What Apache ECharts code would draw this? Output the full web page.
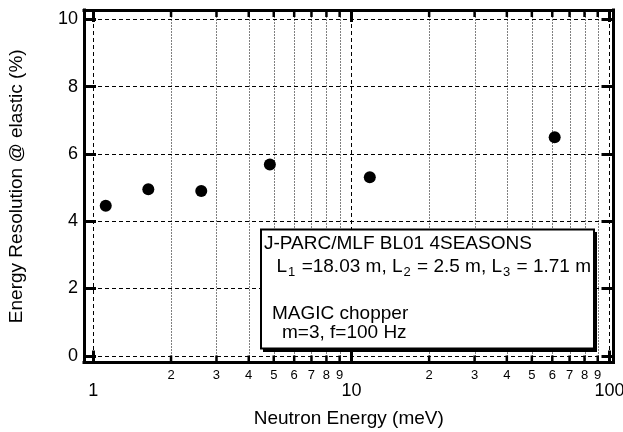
<!DOCTYPE html>
<html><head><meta charset="utf-8">
<script src="https://cdn.jsdelivr.net/npm/echarts@6/dist/echarts.min.js"></script>
<style>html,body{margin:0;padding:0;background:#fff}#c{width:623px;height:432px}</style>
</head><body><div id="c"></div>
<script>
// ---- data ----
const energies = [1.117, 1.633, 2.619, 4.83, 11.78, 61.3];
const resolutions = [4.46, 4.95, 4.90, 5.69, 5.31, 6.50];
const minorTickValues = [2, 3, 4, 5, 6, 7, 8, 9, 20, 30, 40, 50, 60, 70, 80, 90];
const minorTickLabels = ['2','3','4','5','6','7','8','9','2','3','4','5','6','7','8','9'];
const majorXLabels = [1, 10, 100];
const yTickLabels = [0, 2, 4, 6, 8, 10];
const xMin = 0.92, xMax = 103.6, yMin = -0.2, yMax = 10.28;

const FONT = 'Liberation Sans, Arial, Helvetica, sans-serif';
const chart = echarts.init(document.getElementById('c'), null, {renderer: 'canvas'});

function xFmt(v) {
  const m = majorXLabels.find(m => Math.abs(v - m) / m < 1e-6);
  return m !== undefined ? String(m) : '';
}
function yFmt(v) {
  const m = yTickLabels.find(m => Math.abs(v - m) < 1e-6);
  return m !== undefined ? String(m) : '';
}

const axisLineStyle = {color: '#000', width: 3, cap: 'square'};
const majorTick = {show: true, inside: true, length: 12, lineStyle: {color: '#000', width: 3}};

const option = {
  animation: false,
  backgroundColor: '#fff',
  grid: {left: 84, right: 9.5, top: 10, bottom: 69.5, containLabel: false, outerBoundsMode: 'none'},
  xAxis: [
    {
      type: 'log', logBase: 10, min: xMin, max: xMax, position: 'bottom',
      axisLine: {show: true, onZero: false, lineStyle: axisLineStyle},
      axisTick: majorTick,
      axisLabel: {show: true, margin: 20, color: '#000', fontSize: 18, fontFamily: FONT, formatter: xFmt},
      splitLine: {show: true, lineStyle: {color: '#000', width: 1, type: [4, 3]}},
      minorTick: {show: false}, minorSplitLine: {show: false},
      name: 'Neutron Energy (meV)', nameLocation: 'middle', nameGap: 47,
      nameTextStyle: {color: '#000', fontSize: 19, fontFamily: FONT}
    },
    {
      type: 'log', logBase: 10, min: xMin, max: xMax, position: 'top',
      axisLine: {show: true, onZero: false, lineStyle: axisLineStyle},
      axisTick: majorTick,
      axisLabel: {show: false},
      splitLine: {show: false}
    }
  ],
  yAxis: [
    {
      type: 'value', min: yMin, max: yMax, splitNumber: 5, position: 'left',
      axisLine: {show: true, onZero: false, lineStyle: axisLineStyle},
      axisTick: majorTick,
      axisLabel: {show: true, margin: 6, color: '#000', fontSize: 18, fontFamily: FONT, formatter: yFmt},
      splitLine: {show: true, lineStyle: {color: '#000', width: 1, type: [4, 3]}},
      name: 'Energy Resolution @ elastic (%)', nameLocation: 'middle', nameGap: 58,
      nameTextStyle: {color: '#000', fontSize: 19, fontFamily: FONT}
    },
    {
      type: 'value', min: yMin, max: yMax, splitNumber: 5, position: 'right',
      axisLine: {show: true, onZero: false, lineStyle: axisLineStyle},
      axisTick: majorTick,
      axisLabel: {show: false},
      splitLine: {show: false}
    }
  ],
  series: [
    {
      // minor gridlines, minor ticks (top & bottom) and minor tick labels
      type: 'custom', xAxisIndex: 0, yAxisIndex: 0, clip: false, silent: true, z: 1,
      data: minorTickValues.map((v, i) => [v, yMin, i]),
      encode: {x: 0, y: 1},
      renderItem: function (params, api) {
        const v = api.value(0);
        const idx = api.value(2);
        const b = api.coord([v, yMin]);
        const t = api.coord([v, yMax]);
        const gx = Math.round(b[0]) + 0.5;
        return {
          type: 'group',
          children: [
            {type: 'line', shape: {x1: gx, y1: b[1], x2: gx, y2: t[1]},
             style: {stroke: '#000', lineWidth: 1, lineDash: [1, 2]}},
            {type: 'line', shape: {x1: b[0], y1: b[1], x2: b[0], y2: b[1] - 7},
             style: {stroke: '#000', lineWidth: 2.5}},
            {type: 'line', shape: {x1: t[0], y1: t[1], x2: t[0], y2: t[1] + 7},
             style: {stroke: '#000', lineWidth: 2.5}},
            {type: 'text', x: b[0], y: b[1] + 13,
             style: {text: minorTickLabels[idx], fill: '#000', font: '13px ' + FONT,
                     textAlign: 'center', textVerticalAlign: 'middle'}}
          ]
        };
      }
    },
    {
      type: 'scatter', xAxisIndex: 0, yAxisIndex: 0, z: 5,
      symbol: 'circle', symbolSize: 12,
      itemStyle: {color: '#000', opacity: 1},
      data: energies.map((e, i) => [e, resolutions[i]])
    }
  ],
  graphic: [
    {type: 'rect', z: 100, shape: {x: 263, y: 232, width: 334, height: 120}, style: {fill: '#000'}},
    {type: 'rect', z: 101, shape: {x: 261, y: 229.5, width: 333, height: 119},
     style: {fill: '#fff', stroke: '#000', lineWidth: 2}},
    {type: 'text', z: 102, x: 264, y: 243.3,
     style: {text: 'J-PARC/MLF BL01 4SEASONS', fill: '#000', font: '19px ' + FONT, textVerticalAlign: 'middle'}},
    {type: 'text', z: 102, x: 591, y: 266.7,
     style: {
       text: '{n|L}{s|1}{n| =18.03 m, L}{s|2}{n| = 2.5 m, L}{s|3}{n| = 1.71 m}',
       textAlign: 'right', textVerticalAlign: 'middle', fill: '#000',
       rich: {
         n: {fontSize: 19, fontFamily: FONT, fill: '#000', lineHeight: 24, verticalAlign: 'middle'},
         s: {fontSize: 13, fontFamily: FONT, fill: '#000', lineHeight: 24, verticalAlign: 'bottom', padding: [0, 1, 0, 1]}
       }
     }},
    {type: 'text', z: 102, x: 272, y: 314,
     style: {text: 'MAGIC chopper', fill: '#000', font: '19px ' + FONT, textVerticalAlign: 'middle'}},
    {type: 'text', z: 102, x: 282, y: 333,
     style: {text: 'm=3, f=100 Hz', fill: '#000', font: '19px ' + FONT, textVerticalAlign: 'middle'}}
  ]
};
chart.setOption(option);
</script>
</body></html>
